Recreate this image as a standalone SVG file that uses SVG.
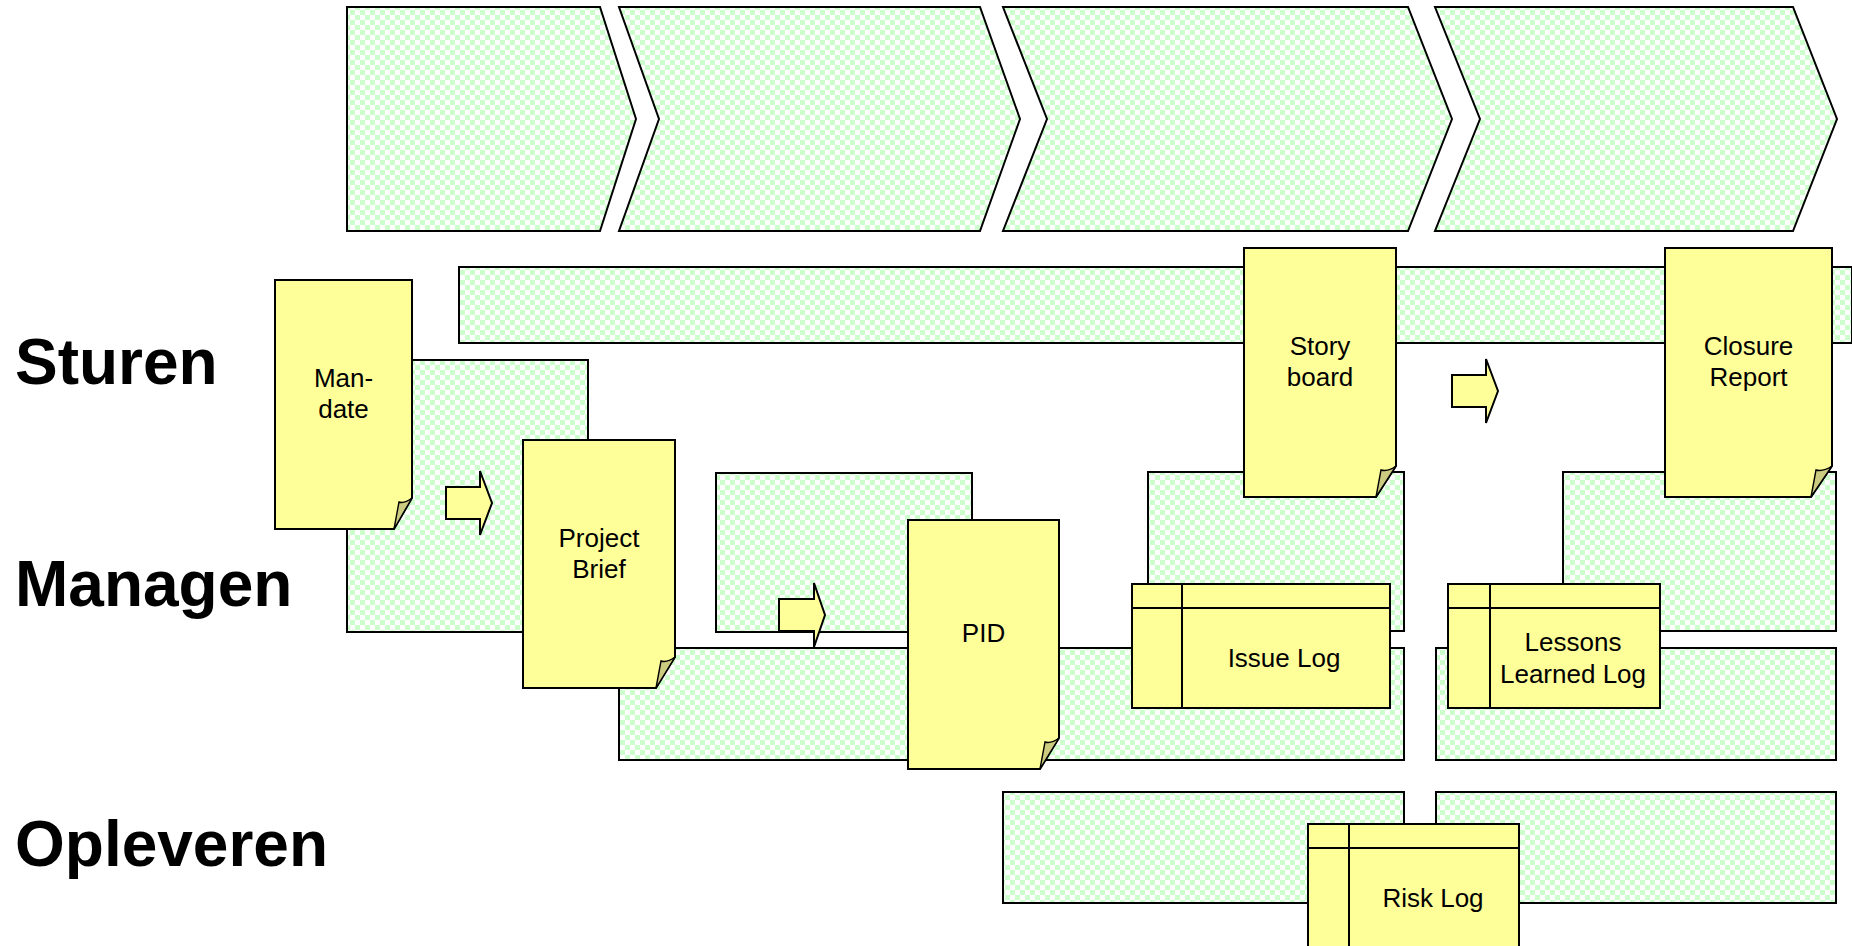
<svg xmlns="http://www.w3.org/2000/svg" width="1852" height="946" viewBox="0 0 1852 946">
<defs>
<pattern id="chk" width="10" height="10" patternUnits="userSpaceOnUse">
<rect width="10" height="10" fill="#ffffff"/>
<rect width="5" height="5" fill="#ccffcc"/>
<rect x="5" y="5" width="5" height="5" fill="#ccffcc"/>
</pattern>
<style>
.band{fill:url(#chk);stroke:#000;stroke-width:2}
.doc{fill:#ffff99;stroke:#000;stroke-width:2;stroke-linejoin:miter}
.fold{fill:#cccc80;stroke:#000;stroke-width:1.4}
.ln{stroke:#000;stroke-width:2;fill:none}
.arw{fill:#ffff99;stroke:#000;stroke-width:2}
.t{font-family:"Liberation Sans",Arial,sans-serif;font-size:26px;fill:#000;text-anchor:middle}
.h{font-family:"Liberation Sans",Arial,sans-serif;font-size:64px;font-weight:bold;fill:#000}
</style>
</defs>
<rect width="1852" height="946" fill="#ffffff"/>

<g id="chevrons">
<polygon class="band" points="347,7 600,7 636,119 600,231 347,231"/>
<polygon class="band" points="619,7 980,7 1020,119 980,231 619,231 659,119"/>
<polygon class="band" points="1003,7 1408,7 1452,119 1408,231 1003,231 1047,119"/>
<polygon class="band" points="1435,7 1793,7 1837,119 1793,231 1435,231 1480,119"/>
</g>

<g id="lane-labels">
<text class="h" x="15" y="384">Sturen</text>
<text class="h" x="15" y="606">Managen</text>
<text class="h" x="15" y="866">Opleveren</text>
</g>

<g id="bands">
<rect class="band" x="459" y="267" width="1393" height="76"/>
<rect class="band" x="347" y="360" width="241" height="272"/>
<rect class="band" x="716" y="473" width="256" height="159"/>
<rect class="band" x="619" y="648" width="785" height="112"/>
<rect class="band" x="1148" y="472" width="256" height="159"/>
<rect class="band" x="1563" y="472" width="273" height="159"/>
<rect class="band" x="1436" y="648" width="400" height="112"/>
<rect class="band" x="1003" y="792" width="401" height="111"/>
<rect class="band" x="1436" y="792" width="400" height="111"/>
</g>

<g id="connectors">
<polygon class="arw" points="446,487 480,487 480,471 492,503 480,535 480,519 446,519"/>
<polygon class="arw" points="779,599 814,599 814,583 825,615 814,647 814,631 779,631"/>
<polygon class="arw" points="1452,375 1486,375 1486,359 1498,391 1486,423 1486,407 1452,407"/>
</g>

<g id="mandate">
<path class="doc" d="M275,280 H412 V498 L394,529 H275 Z"/>
<path class="fold" d="M412,498 L394,529 L399,502 Q404,504 412,498 Z"/>
<text class="t" x="343.5" y="387">Man-</text>
<text class="t" x="343.5" y="418">date</text>
</g>

<g id="project-brief">
<path class="doc" d="M523,440 H675 V657 L656,688 H523 Z"/>
<path class="fold" d="M675,657 L656,688 L661,661 Q667,663 675,657 Z"/>
<text class="t" x="599" y="547">Project</text>
<text class="t" x="599" y="578">Brief</text>
</g>

<g id="pid">
<path class="doc" d="M908,520 H1059 V738 L1040,769 H908 Z"/>
<path class="fold" d="M1059,738 L1040,769 L1045,742 Q1051,744 1059,738 Z"/>
<text class="t" x="983.5" y="642">PID</text>
</g>

<g id="storyboard">
<path class="doc" d="M1244,248 H1396 V466 L1376,497 H1244 Z"/>
<path class="fold" d="M1396,466 L1376,497 L1381,470 Q1388,472 1396,466 Z"/>
<text class="t" x="1320" y="355">Story</text>
<text class="t" x="1320" y="386">board</text>
</g>

<g id="closure-report">
<path class="doc" d="M1665,248 H1832 V466 L1811,497 H1665 Z"/>
<path class="fold" d="M1832,466 L1811,497 L1816,470 Q1823,472 1832,466 Z"/>
<text class="t" x="1748.5" y="355">Closure</text>
<text class="t" x="1748.5" y="386">Report</text>
</g>

<g id="issue-log">
<rect class="doc" x="1132" y="584" width="258" height="124"/>
<line class="ln" x1="1132" y1="608" x2="1390" y2="608"/>
<line class="ln" x1="1182" y1="584" x2="1182" y2="708"/>
<text class="t" x="1284" y="667">Issue Log</text>
</g>

<g id="lessons-learned-log">
<rect class="doc" x="1448" y="584" width="212" height="124"/>
<line class="ln" x1="1448" y1="608" x2="1660" y2="608"/>
<line class="ln" x1="1490" y1="584" x2="1490" y2="708"/>
<text class="t" x="1573" y="651">Lessons</text>
<text class="t" x="1573" y="683">Learned Log</text>
</g>

<g id="risk-log">
<rect class="doc" x="1308" y="824" width="211" height="140"/>
<line class="ln" x1="1308" y1="848" x2="1519" y2="848"/>
<line class="ln" x1="1349" y1="824" x2="1349" y2="964"/>
<text class="t" x="1433" y="907">Risk Log</text>
</g>
</svg>
